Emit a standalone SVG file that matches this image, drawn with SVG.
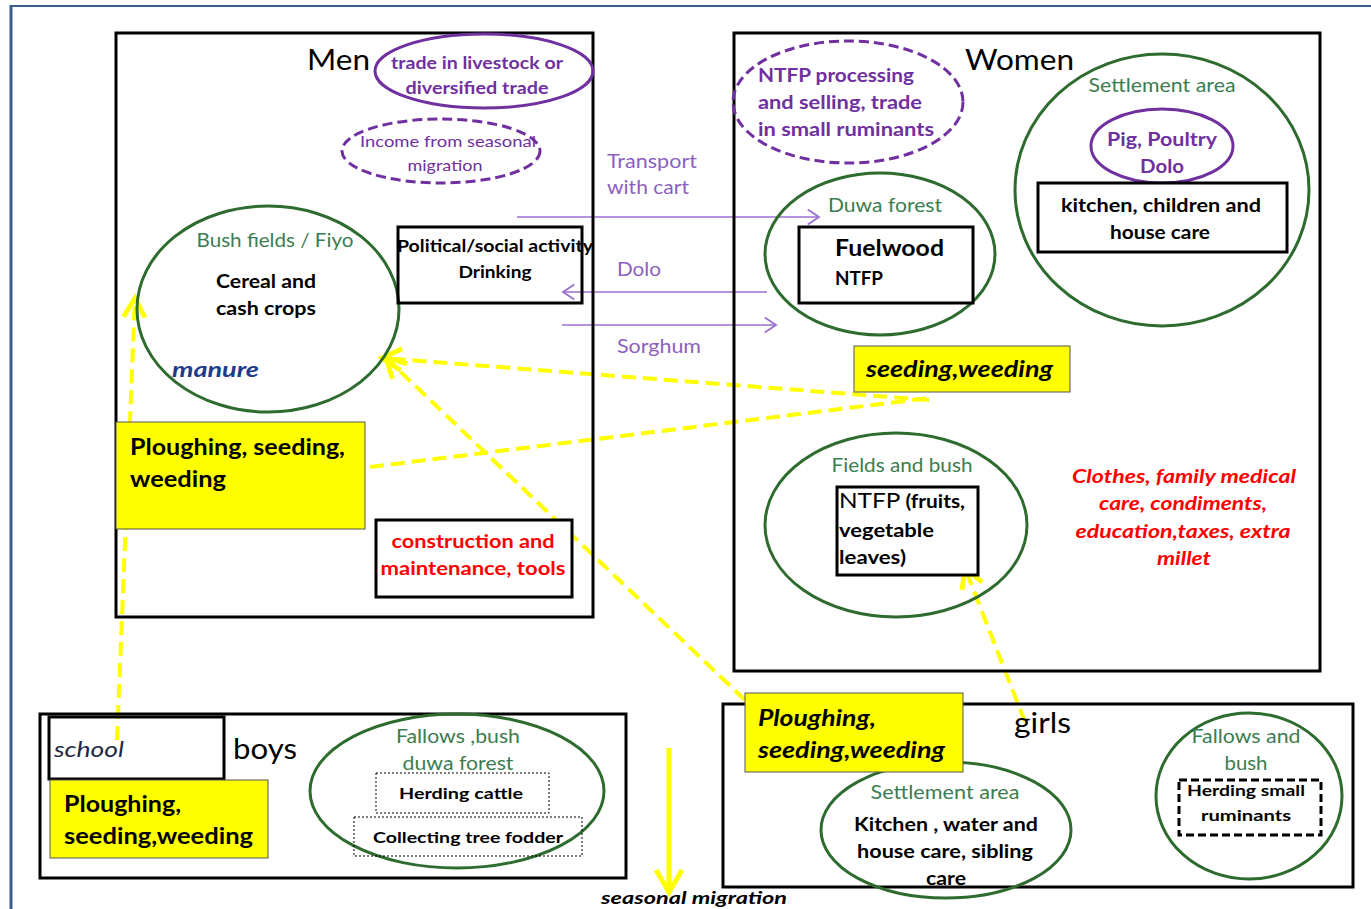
<svg xmlns="http://www.w3.org/2000/svg" width="1371" height="909" viewBox="0 0 1371 909">
<defs>
<style>
.box{fill:none;stroke:#000;stroke-width:3}
.wbox{fill:#fff;stroke:#000;stroke-width:3}
.ybox{fill:#ffff00;stroke:#555;stroke-width:1}
.grn{fill:none;stroke:#2e6b2e;stroke-width:3}
.pur{fill:none;stroke:#7030a0;stroke-width:3}
.purd{fill:none;stroke:#7030a0;stroke-width:3;stroke-dasharray:10,5}
.t{font-family:Lato,"Liberation Sans",sans-serif;fill:#000}
.big{font-size:28px}
.b{font-weight:bold}
.i{font-style:italic}
.c{text-anchor:middle}
.g{fill:#3b7d4f;font-size:19px}
.p{fill:#7030a0}
.pl{fill:#8b5fbf;font-size:19px}
.r{fill:#ff0000}
.yl{fill:none;stroke:#ffff00;stroke-width:4;stroke-dasharray:14,7}
.pline{fill:none;stroke:#9b72cf;stroke-width:1.5}
</style>
<marker id="pa" markerUnits="userSpaceOnUse" markerWidth="20" markerHeight="20" viewBox="-12 -8 14 16" refX="0" refY="0" orient="auto">
<path d="M-9,-6 L0,0 L-9,6" fill="none" stroke="#9b72cf" stroke-width="1.5"/>
</marker>
<marker id="ya" markerUnits="userSpaceOnUse" markerWidth="30" markerHeight="30" viewBox="-22 -14 26 28" refX="0" refY="0" orient="auto">
<path d="M-18,-10 L0,0 L-18,10" fill="none" stroke="#ffff00" stroke-width="4.5"/>
</marker>
</defs>
<rect x="0" y="0" width="1371" height="909" fill="#fff"/>
<g id="frame">
<line x1="11" y1="5" x2="11" y2="909" stroke="#3a5f8f" stroke-width="3"/>
<line x1="10" y1="6" x2="1371" y2="6" stroke="#3a5f8f" stroke-width="2"/>
</g>
<g id="connectors">
<line class="yl" x1="117" y1="740" x2="135" y2="298" marker-end="url(#ya)"/>
<line class="yl" x1="929" y1="400" x2="382" y2="358" marker-end="url(#ya)"/>
<line class="yl" x1="370" y1="467" x2="929" y2="398"/>
<line class="yl" x1="745" y1="700" x2="386" y2="358" marker-end="url(#ya)"/>
<line class="yl" x1="1025" y1="722" x2="965" y2="568" marker-end="url(#ya)"/>
<line x1="669" y1="748" x2="669" y2="892" stroke="#ffff00" stroke-width="5"/>
<path d="M656,870 L669,892 L682,870" fill="none" stroke="#ffff00" stroke-width="5"/>
<line class="pline" x1="517" y1="217" x2="819" y2="217" marker-end="url(#pa)"/>
<line class="pline" x1="767" y1="292" x2="563" y2="292" marker-end="url(#pa)"/>
<line class="pline" x1="562" y1="325" x2="776" y2="325" marker-end="url(#pa)"/>
<text class="t pl" x="607" y="168" textLength="90" lengthAdjust="spacingAndGlyphs">Transport</text>
<text class="t pl" x="607" y="194" textLength="82" lengthAdjust="spacingAndGlyphs">with cart</text>
<text class="t pl" x="617" y="276" textLength="44" lengthAdjust="spacingAndGlyphs">Dolo</text>
<text class="t pl" x="617" y="353" textLength="84" lengthAdjust="spacingAndGlyphs">Sorghum</text>
<text class="t b i" x="601" y="904" font-size="17" textLength="186" lengthAdjust="spacingAndGlyphs">seasonal migration</text>
</g>
<g id="men">
<rect class="box" x="116" y="33" width="477" height="584"/>
<text class="t big" x="307" y="70" textLength="63" lengthAdjust="spacingAndGlyphs">Men</text>
</g>
<g id="men-trade">
<ellipse class="pur" cx="484" cy="71" rx="109" ry="37"/>
<text class="t b p c" x="477" y="69" font-size="17" textLength="172" lengthAdjust="spacingAndGlyphs">trade in livestock or</text>
<text class="t b p c" x="477" y="94" font-size="17" textLength="143" lengthAdjust="spacingAndGlyphs">diversified trade</text>
</g>
<g id="men-income">
<ellipse class="purd" cx="441" cy="151" rx="99" ry="32"/>
<text class="t p c" x="448" y="147" font-size="16" textLength="176" lengthAdjust="spacingAndGlyphs">Income from seasonal</text>
<text class="t p c" x="445" y="171" font-size="16" textLength="75" lengthAdjust="spacingAndGlyphs">migration</text>
</g>
<g id="men-bush">
<ellipse class="grn" cx="268" cy="309" rx="131" ry="103"/>
<text class="t g c" x="275" y="247" textLength="157" lengthAdjust="spacingAndGlyphs">Bush fields / Fiyo</text>
<text class="t b c" x="266" y="288" font-size="18" textLength="100" lengthAdjust="spacingAndGlyphs">Cereal and</text>
<text class="t b c" x="266" y="315" font-size="18" textLength="100" lengthAdjust="spacingAndGlyphs">cash crops</text>
<text class="t b i" x="172" y="377" font-size="21" style="fill:#1f3c88" textLength="87" lengthAdjust="spacingAndGlyphs">manure</text>
</g>
<g id="men-political">
<rect class="box" x="398" y="227" width="184" height="76"/>
<text class="t b c" x="495" y="252" font-size="17" textLength="196" lengthAdjust="spacingAndGlyphs">Political/social activity</text>
<text class="t b c" x="495" y="278" font-size="17" textLength="73" lengthAdjust="spacingAndGlyphs">Drinking</text>
</g>
<g id="men-plough">
<rect class="ybox" x="116" y="422" width="249" height="107"/>
<text class="t b" x="130" y="455" font-size="23" textLength="215" lengthAdjust="spacingAndGlyphs">Ploughing, seeding,</text>
<text class="t b" x="130" y="487" font-size="23" textLength="96" lengthAdjust="spacingAndGlyphs">weeding</text>
</g>
<g id="men-construction">
<rect class="wbox" x="376" y="520" width="196" height="77"/>
<text class="t b r c" x="473" y="548" font-size="18" textLength="163" lengthAdjust="spacingAndGlyphs">construction and</text>
<text class="t b r c" x="473" y="575" font-size="18" textLength="185" lengthAdjust="spacingAndGlyphs">maintenance, tools</text>
</g>
<g id="women">
<rect class="box" x="734" y="33" width="586" height="638"/>
<text class="t big" x="965" y="70" textLength="109" lengthAdjust="spacingAndGlyphs">Women</text>
</g>
<g id="women-ntfp-trade">
<ellipse class="purd" cx="848" cy="102" rx="115" ry="61"/>
<text class="t b p" x="758" y="82" font-size="18" textLength="156" lengthAdjust="spacingAndGlyphs">NTFP processing</text>
<text class="t b p" x="758" y="109" font-size="18" textLength="164" lengthAdjust="spacingAndGlyphs">and selling, trade</text>
<text class="t b p" x="758" y="136" font-size="18" textLength="176" lengthAdjust="spacingAndGlyphs">in small ruminants</text>
</g>
<g id="women-settlement">
<ellipse class="grn" cx="1162" cy="190" rx="147" ry="136"/>
<text class="t g c" x="1162" y="92" textLength="147" lengthAdjust="spacingAndGlyphs">Settlement area</text>
<ellipse class="pur" cx="1162" cy="146" rx="71" ry="37"/>
<text class="t b p c" x="1162" y="146" font-size="18" textLength="110" lengthAdjust="spacingAndGlyphs">Pig, Poultry</text>
<text class="t b p c" x="1162" y="173" font-size="18" textLength="44" lengthAdjust="spacingAndGlyphs">Dolo</text>
<rect class="wbox" x="1038" y="183" width="249" height="69"/>
<text class="t b c" x="1161" y="212" font-size="18" textLength="200" lengthAdjust="spacingAndGlyphs">kitchen, children and</text>
<text class="t b c" x="1160" y="239" font-size="18" textLength="100" lengthAdjust="spacingAndGlyphs">house care</text>
</g>
<g id="women-duwa">
<ellipse class="grn" cx="880" cy="254" rx="115" ry="81"/>
<text class="t g c" x="885" y="212" textLength="114" lengthAdjust="spacingAndGlyphs">Duwa forest</text>
<rect class="wbox" x="799" y="227" width="174" height="76"/>
<text class="t b" x="835" y="256" font-size="23" textLength="109" lengthAdjust="spacingAndGlyphs">Fuelwood</text>
<text class="t b" x="835" y="285" font-size="18" textLength="48" lengthAdjust="spacingAndGlyphs">NTFP</text>
</g>
<g id="women-seeding">
<rect class="ybox" x="854" y="346" width="216" height="46"/>
<text class="t b i" x="866" y="377" font-size="22" textLength="187" lengthAdjust="spacingAndGlyphs">seeding,weeding</text>
</g>
<g id="women-fields">
<ellipse class="grn" cx="896" cy="525" rx="131" ry="92"/>
<text class="t g c" x="902" y="472" textLength="141" lengthAdjust="spacingAndGlyphs">Fields and bush</text>
<rect class="wbox" x="837" y="487" width="141" height="88"/>
<text class="t b" x="839" y="508" font-size="18" textLength="126" lengthAdjust="spacingAndGlyphs"><tspan font-weight="normal" font-size="21">NTFP</tspan> (fruits,</text>
<text class="t b" x="839" y="537" font-size="18" textLength="95" lengthAdjust="spacingAndGlyphs">vegetable</text>
<text class="t b" x="839" y="564" font-size="18" textLength="67" lengthAdjust="spacingAndGlyphs">leaves)</text>
</g>
<g id="women-expenses">
<text class="t b i r c" x="1184" y="483" font-size="19" textLength="224" lengthAdjust="spacingAndGlyphs">Clothes, family medical</text>
<text class="t b i r c" x="1183" y="510" font-size="19" textLength="168" lengthAdjust="spacingAndGlyphs">care, condiments,</text>
<text class="t b i r c" x="1183" y="538" font-size="19" textLength="215" lengthAdjust="spacingAndGlyphs">education,taxes, extra</text>
<text class="t b i r c" x="1184" y="565" font-size="19" textLength="54" lengthAdjust="spacingAndGlyphs">millet</text>
</g>
<g id="boys">
<rect class="box" x="40" y="714" width="586" height="164"/>
<text class="t big" x="233" y="759" textLength="64" lengthAdjust="spacingAndGlyphs">boys</text>
</g>
<g id="boys-school">
<rect class="box" x="49" y="717" width="175" height="62"/>
<text class="t i" x="54" y="757" font-size="22" style="fill:#1f2a44" textLength="70" lengthAdjust="spacingAndGlyphs">school</text>
</g>
<g id="boys-plough">
<rect class="ybox" x="50" y="780" width="218" height="78"/>
<text class="t b" x="64" y="812" font-size="22" textLength="117" lengthAdjust="spacingAndGlyphs">Ploughing,</text>
<text class="t b" x="64" y="844" font-size="22" textLength="189" lengthAdjust="spacingAndGlyphs">seeding,weeding</text>
</g>
<g id="boys-fallows">
<ellipse class="grn" cx="457" cy="791" rx="147" ry="77"/>
<text class="t g c" x="458" y="743" textLength="124" lengthAdjust="spacingAndGlyphs">Fallows ,bush</text>
<text class="t g c" x="458" y="770" textLength="111" lengthAdjust="spacingAndGlyphs">duwa forest</text>
<rect x="376" y="773" width="173" height="40" fill="none" stroke="#000" stroke-width="1" stroke-dasharray="2,2"/>
<text class="t b c" x="461" y="799" font-size="16" textLength="124" lengthAdjust="spacingAndGlyphs">Herding cattle</text>
<rect x="354" y="817" width="228" height="39" fill="none" stroke="#000" stroke-width="1" stroke-dasharray="2,2"/>
<text class="t b c" x="468" y="843" font-size="16" textLength="190" lengthAdjust="spacingAndGlyphs">Collecting tree fodder</text>
</g>
<g id="girls">
<rect class="box" x="723" y="704" width="630" height="183"/>
<text class="t big" x="1014" y="733" textLength="57" lengthAdjust="spacingAndGlyphs">girls</text>
</g>
<g id="girls-settlement">
<ellipse class="grn" cx="946" cy="830" rx="125" ry="68"/>
<text class="t g c" x="945" y="799" textLength="149" lengthAdjust="spacingAndGlyphs">Settlement area</text>
<text class="t b c" x="946" y="831" font-size="18" textLength="184" lengthAdjust="spacingAndGlyphs">Kitchen , water and</text>
<text class="t b c" x="945" y="858" font-size="18" textLength="176" lengthAdjust="spacingAndGlyphs">house care, sibling</text>
<text class="t b c" x="946" y="885" font-size="18" textLength="40" lengthAdjust="spacingAndGlyphs">care</text>
</g>
<g id="girls-plough">
<rect class="ybox" x="745" y="693" width="218" height="79"/>
<text class="t b i" x="758" y="726" font-size="22" textLength="118" lengthAdjust="spacingAndGlyphs">Ploughing,</text>
<text class="t b i" x="758" y="758" font-size="22" textLength="187" lengthAdjust="spacingAndGlyphs">seeding,weeding</text>
</g>
<g id="girls-fallows">
<ellipse class="grn" cx="1249" cy="796" rx="93" ry="83"/>
<text class="t g c" x="1246" y="743" textLength="109" lengthAdjust="spacingAndGlyphs">Fallows and</text>
<text class="t g c" x="1246" y="770" textLength="43" lengthAdjust="spacingAndGlyphs">bush</text>
<rect x="1179" y="780" width="142" height="55" fill="none" stroke="#000" stroke-width="3" stroke-dasharray="8,4"/>
<text class="t b c" x="1246" y="796" font-size="16" textLength="118" lengthAdjust="spacingAndGlyphs">Herding small</text>
<text class="t b c" x="1246" y="821" font-size="16" textLength="90" lengthAdjust="spacingAndGlyphs">ruminants</text>
</g>
</svg>
